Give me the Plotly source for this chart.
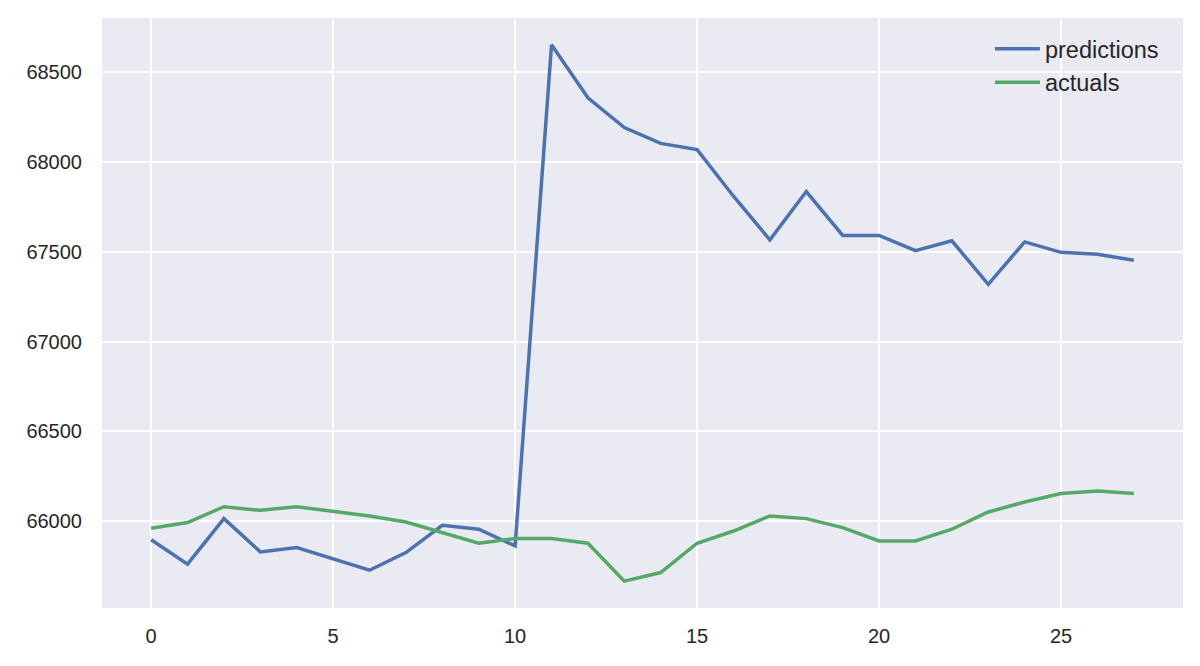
import plotly.graph_objects as go

steps = list(range(28))
predictions = [65897, 65762, 66015, 65830, 65854, 65789, 65728, 65826, 65978, 65956,
               65863, 68650, 68355, 68190, 68102, 68067, 67808, 67565, 67834, 67590,
               67590, 67505, 67560, 67318, 67554, 67496, 67485, 67452]
actuals = [65961, 65993, 66081, 66061, 66081, 66055, 66030, 65996, 65937, 65878,
           65904, 65904, 65878, 65667, 65715, 65878, 65946, 66030, 66015, 65965,
           65891, 65891, 65956, 66052, 66107, 66155, 66168, 66155]
x_ticks = [0, 5, 10, 15, 20, 25]
y_ticks = [66000, 66500, 67000, 67500, 68000, 68500]

font_family = "Liberation Sans, Arial, sans-serif"

fig = go.Figure()
fig.add_trace(go.Scatter(x=steps, y=predictions, mode="lines", name="predictions",
                         line=dict(color="#4C72B0", width=3.5), legendgroup="p"))
fig.add_trace(go.Scatter(x=steps, y=actuals, mode="lines", name="actuals",
                         line=dict(color="#55A868", width=3.5), legendgroup="a"))

ymin = min(min(predictions), min(actuals))
ymax = max(max(predictions), max(actuals))
ypad = (ymax - ymin) * 0.05
xpad = (steps[-1] - steps[0]) * 0.05

fig.update_layout(
    width=1192, height=658,
    paper_bgcolor="white",
    plot_bgcolor="#EAEAF2",
    margin=dict(l=94, r=17, t=10, b=58),
    font=dict(family=font_family, size=20, color="#262626"),
    showlegend=True,
    legend=dict(x=0.8214, y=0.985, xanchor="left", yanchor="top", itemwidth=45,
                bgcolor="rgba(0,0,0,0)", font=dict(size=23.5, color="#262626"),
                tracegroupgap=0, traceorder="grouped"),
    xaxis=dict(range=[steps[0] - xpad, steps[-1] + xpad], tickvals=x_ticks,
               showgrid=True, gridcolor="white", gridwidth=2, zeroline=False,
               showline=False, ticks="outside", ticklen=10, tickcolor="rgba(0,0,0,0)"),
    yaxis=dict(range=[ymin - ypad, ymax + ypad], tickvals=y_ticks,
               tickformat="d",
               showgrid=True, gridcolor="white", gridwidth=2, zeroline=False,
               showline=False, ticks="outside", ticklen=15, tickcolor="rgba(0,0,0,0)"),
)

fig.write_html("out.html")
